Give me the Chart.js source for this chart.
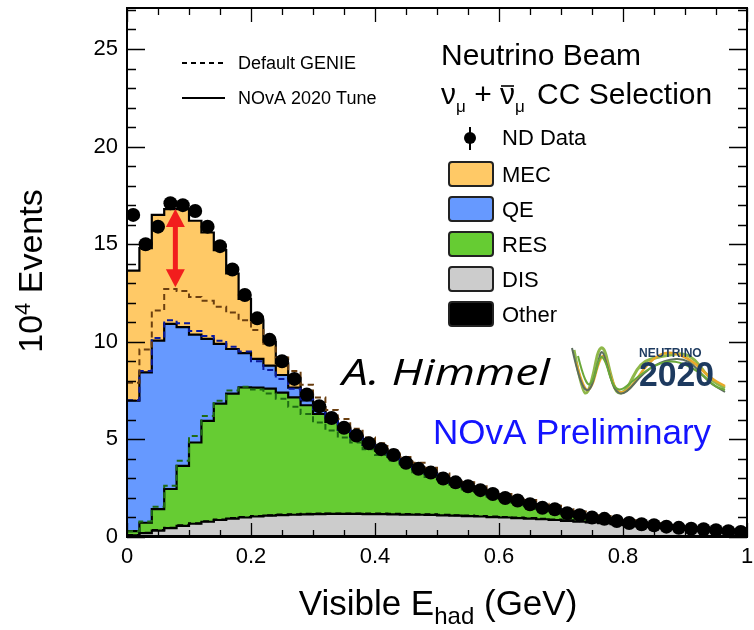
<!DOCTYPE html>
<html>
<head>
<meta charset="utf-8">
<script src="https://cdn.jsdelivr.net/npm/chart.js@4.4.0/dist/chart.umd.min.js"></script>
<style>
  html, body { margin: 0; padding: 0; background: #fff; }
  #wrap { width: 754px; height: 630px; }
</style>
</head>
<body>
<div id="wrap"><canvas id="chart" width="754" height="630"></canvas></div>
<script>
'use strict';

// Visible E_had bin edges (GeV)
var binEdges = [0.00, 0.02, 0.04, 0.06, 0.08, 0.10, 0.12, 0.14, 0.16, 0.18,
  0.20, 0.22, 0.24, 0.26, 0.28, 0.30, 0.32, 0.34, 0.36, 0.38,
  0.40, 0.42, 0.44, 0.46, 0.48, 0.50, 0.52, 0.54, 0.56, 0.58,
  0.60, 0.62, 0.64, 0.66, 0.68, 0.70, 0.72, 0.74, 0.76, 0.78,
  0.80, 0.82, 0.84, 0.86, 0.88, 0.90, 0.92, 0.94, 0.96, 0.98, 1.00];

// ND data, 10^4 events per bin
var ndData = [16.5, 15.0, 15.9, 17.1, 17.0, 16.7, 15.9, 14.9, 13.7, 12.4,
  11.2, 10.1, 9.0, 8.1, 7.3, 6.7, 6.1, 5.6, 5.2, 4.8,
  4.5, 4.2, 3.8, 3.5, 3.3, 3.0, 2.8, 2.6, 2.4, 2.2,
  2.0, 1.87, 1.68, 1.5, 1.42, 1.22, 1.12, 1.0, 0.93, 0.82,
  0.72, 0.65, 0.6, 0.53, 0.47, 0.42, 0.4, 0.35, 0.3, 0.26];

// NOvA 2020 tune, per component (stacked)
var otherTune = [0.05, 0.05, 0.05, 0.05, 0.05, 0.05, 0.05, 0.05, 0.05, 0.05,
  0.05, 0.05, 0.05, 0.05, 0.05, 0.05, 0.05, 0.05, 0.05, 0.05,
  0.05, 0.05, 0.05, 0.05, 0.05, 0.05, 0.05, 0.05, 0.05, 0.05,
  0.05, 0.05, 0.05, 0.05, 0.05, 0.05, 0.05, 0.05, 0.05, 0.05,
  0.05, 0.05, 0.05, 0.05, 0.05, 0.05, 0.05, 0.05, 0.05, 0.05];
var disTune = [0.03, 0.15, 0.28, 0.40, 0.52, 0.63, 0.73, 0.82, 0.89, 0.95,
  1.00, 1.04, 1.07, 1.09, 1.11, 1.12, 1.13, 1.13, 1.13, 1.12,
  1.12, 1.11, 1.10, 1.09, 1.08, 1.06, 1.04, 1.02, 1.00, 0.97,
  0.95, 0.92, 0.89, 0.86, 0.82, 0.78, 0.74, 0.70, 0.66, 0.61,
  0.56, 0.51, 0.47, 0.42, 0.37, 0.33, 0.30, 0.26, 0.22, 0.19];
var resTune = [0.22, 0.53, 1.10, 2.01, 3.07, 4.16, 5.17, 5.96, 6.40, 6.67,
  6.60, 6.51, 6.28, 6.01, 5.59, 5.13, 4.72, 4.32, 3.94, 3.55,
  3.25, 2.96, 2.63, 2.34, 2.10, 1.85, 1.65, 1.47, 1.29, 1.12,
  0.97, 0.85, 0.71, 0.58, 0.51, 0.37, 0.31, 0.23, 0.20, 0.15,
  0.10, 0.08, 0.07, 0.05, 0.04, 0.03, 0.03, 0.02, 0.02, 0.01];
var qeTune = [6.68, 7.70, 8.63, 8.46, 7.11, 5.53, 4.20, 3.06, 2.29, 1.75,
  1.47, 1.18, 0.90, 0.50, 0.25, 0.20, 0.10, 0.05, 0.06, 0.06,
  0.06, 0.06, 0.05, 0.05, 0.05, 0.04, 0.04, 0.04, 0.04, 0.04,
  0.03, 0.03, 0.03, 0.02, 0.02, 0.02, 0.01, 0.01, 0.01, 0.01,
  0.01, 0.01, 0.01, 0.01, 0.01, 0.01, 0.01, 0.01, 0.01, 0.01];
var mecTune = [6.67, 6.37, 6.44, 5.88, 6.05, 5.83, 5.45, 4.81, 3.87, 2.78,
  1.98, 1.22, 0.60, 0.50, 0.30, 0.15, 0.10, 0.05, 0.02, 0.02,
  0.02, 0.02, 0.02, 0.02, 0.02, 0.02, 0.02, 0.02, 0.02, 0.02,
  0.02, 0.01, 0.01, 0.01, 0.01, 0.01, 0.01, 0.01, 0.01, 0.01,
  0.01, 0.01, 0.01, 0.01, 0.01, 0.01, 0.01, 0.01, 0.01, 0.01];

// Default GENIE, cumulative outlines (dashed)
var genieTotal = [7.9, 9.6, 11.6, 12.7, 12.6, 12.3, 12.1, 11.8, 11.5, 11.1,
  10.6, 9.9, 9.2, 8.5, 7.8, 7.15, 6.5, 6.05, 5.55, 5.1,
  4.8, 4.45, 4.1, 3.8, 3.55, 3.25, 3.0, 2.8, 2.6, 2.4,
  2.2, 2.05, 1.9, 1.7, 1.6, 1.42, 1.3, 1.17, 1.07, 0.96,
  0.86, 0.77, 0.7, 0.62, 0.56, 0.5, 0.46, 0.41, 0.36, 0.32];
var genieQE = [7.0, 8.5, 10.2, 11.1, 10.95, 10.55, 10.3, 10.05, 9.75, 9.5,
  9.0, 8.55, 8.1, 7.6, 7.05, 6.45, 5.95, 5.5, 5.1, 4.72,
  4.4, 4.1, 3.78, 3.48, 3.24, 2.98, 2.76, 2.56, 2.36, 2.16,
  1.99, 1.84, 1.67, 1.5, 1.39, 1.21, 1.1, 0.99, 0.92, 0.82,
  0.72, 0.65, 0.6, 0.53, 0.47, 0.42, 0.39, 0.34, 0.3, 0.26];
var genieRES = [0.3, 0.8, 1.55, 2.62, 3.9, 5.18, 6.2, 6.98, 7.5, 7.7,
  7.55, 7.35, 7.08, 6.67, 6.3, 5.87, 5.45, 5.1, 4.84, 4.5,
  4.2, 3.92, 3.6, 3.32, 3.08, 2.84, 2.62, 2.43, 2.25, 2.06,
  1.9, 1.75, 1.59, 1.44, 1.33, 1.16, 1.06, 0.95, 0.88, 0.79,
  0.7, 0.63, 0.58, 0.51, 0.46, 0.41, 0.38, 0.33, 0.29, 0.25];
var genieDIS = [0.1, 0.22, 0.36, 0.48, 0.6, 0.71, 0.81, 0.9, 0.97, 1.03,
  1.08, 1.12, 1.15, 1.17, 1.19, 1.2, 1.21, 1.21, 1.21, 1.2,
  1.2, 1.19, 1.18, 1.17, 1.16, 1.14, 1.12, 1.1, 1.08, 1.05,
  1.03, 1.0, 0.97, 0.94, 0.9, 0.86, 0.82, 0.78, 0.74, 0.69,
  0.64, 0.59, 0.55, 0.5, 0.45, 0.41, 0.38, 0.34, 0.3, 0.27];

var xTickLabels = ['0', '0.2', '0.4', '0.6', '0.8', '1'];
var yTickLabels = ['0', '5', '10', '15', '20', '25'];

// red arrow: tune vs default at the peak
var arrowX = 0.078;
var arrowLow = 12.8;
var arrowHigh = 16.8;

var FONT = '"Liberation Sans", Arial, Helvetica, sans-serif';
var colors = {
  mec: '#ffc966',
  qe: '#6699ff',
  res: '#66cc33',
  dis: '#cccccc',
  other: '#000000'
};

Chart.defaults.font.family = FONT;

// histogram as a stepped line: one point per left edge, last value repeated at the end
function toSteps(values) {
  return binEdges.map(function (x, i) {
    return { x: x, y: values[Math.min(i, values.length - 1)] };
  });
}

function toCenters(values) {
  return values.map(function (v, i) {
    return { x: (binEdges[i] + binEdges[i + 1]) / 2, y: v };
  });
}

function stackLayer(values, color, fill, order) {
  return {
    data: toSteps(values),
    stack: 'tune',
    stepped: 'before',
    fill: fill,
    backgroundColor: color,
    borderColor: '#000',
    borderWidth: 2.2,
    pointRadius: 0,
    order: order
  };
}

function dashedLine(values, color, key, order) {
  return {
    data: toSteps(values),
    stack: key,
    stepped: 'before',
    fill: false,
    borderColor: color,
    borderWidth: 2,
    borderDash: [6, 4],
    pointRadius: 0,
    order: order
  };
}

function drawRich(ctx, parts, x, y) {
  var cx = x;
  parts.forEach(function (p) {
    ctx.font = p.font;
    ctx.fillText(p.t, cx, y + (p.dy || 0));
    var w = ctx.measureText(p.t).width;
    if (p.bar) {
      ctx.save();
      ctx.lineWidth = 1.6;
      ctx.beginPath();
      ctx.moveTo(cx + 1, y - p.bar);
      ctx.lineTo(cx + w - 1, y - p.bar);
      ctx.stroke();
      ctx.restore();
    }
    cx += w + (p.gap || 0);
  });
  return cx - x;
}

function richWidth(ctx, parts) {
  var w = 0;
  parts.forEach(function (p) {
    ctx.font = p.font;
    w += ctx.measureText(p.t).width + (p.gap || 0);
  });
  return w;
}

var decorations = {
  id: 'decorations',
  beforeDraw: function (chart) {
    var ctx = chart.ctx;
    ctx.save();
    ctx.fillStyle = '#fff';
    ctx.fillRect(0, 0, chart.width, chart.height);
    ctx.restore();
  },
  afterDatasetsDraw: function (chart) {
    var ctx = chart.ctx;
    var xs = chart.scales.x;
    var ys = chart.scales.y;
    var ax = xs.getPixelForValue(arrowX);
    var yTop = ys.getPixelForValue(arrowHigh);
    var yBot = ys.getPixelForValue(arrowLow);
    var head = 18, half = 9.5;
    ctx.save();
    ctx.fillStyle = '#f21d1d';
    ctx.strokeStyle = '#f21d1d';
    ctx.lineWidth = 5;
    ctx.beginPath();
    ctx.moveTo(ax, yTop + head - 2);
    ctx.lineTo(ax, yBot - head + 2);
    ctx.stroke();
    ctx.beginPath();
    ctx.moveTo(ax, yTop);
    ctx.lineTo(ax - half, yTop + head);
    ctx.lineTo(ax + half, yTop + head);
    ctx.closePath();
    ctx.fill();
    ctx.beginPath();
    ctx.moveTo(ax, yBot);
    ctx.lineTo(ax - half, yBot - head);
    ctx.lineTo(ax + half, yBot - head);
    ctx.closePath();
    ctx.fill();
    ctx.restore();
  },
  afterDraw: function (chart) {
    var ctx = chart.ctx;
    var a = chart.chartArea;
    var xs = chart.scales.x;
    var ys = chart.scales.y;
    var i, p, len;

    ctx.save();
    // frame and inner ticks
    ctx.strokeStyle = '#000';
    ctx.lineWidth = 2;
    ctx.strokeRect(a.left, a.top, a.right - a.left, a.bottom - a.top);
    ctx.lineWidth = 1.3;
    ctx.beginPath();
    for (i = 0; i <= 27; i++) {
      p = Math.round(ys.getPixelForValue(i)) + 0.5;
      len = i % 5 === 0 ? 18 : 9;
      ctx.moveTo(a.left, p); ctx.lineTo(a.left + len, p);
      ctx.moveTo(a.right, p); ctx.lineTo(a.right - len, p);
    }
    for (i = 0; i <= 20; i++) {
      p = Math.round(xs.getPixelForValue(i * 0.05)) + 0.5;
      len = i % 4 === 0 ? 14 : 7;
      ctx.moveTo(p, a.bottom); ctx.lineTo(p, a.bottom - len);
      ctx.moveTo(p, a.top); ctx.lineTo(p, a.top + len);
    }
    ctx.stroke();

    ctx.fillStyle = '#000';
    ctx.textBaseline = 'alphabetic';
    ctx.textAlign = 'left';

    // axis titles
    var xt = [
      { t: 'Visible E', font: '35px ' + FONT },
      { t: 'had', font: '24px ' + FONT, dy: 9 },
      { t: ' (GeV)', font: '35px ' + FONT }
    ];
    drawRich(ctx, xt, 438 - richWidth(ctx, xt) / 2, 615);

    ctx.save();
    ctx.translate(42, 271);
    ctx.rotate(-Math.PI / 2);
    var yt = [
      { t: '10', font: '34px ' + FONT },
      { t: '4', font: '22px ' + FONT, dy: -12 },
      { t: ' Events', font: '34px ' + FONT }
    ];
    drawRich(ctx, yt, -richWidth(ctx, yt) / 2, 0);
    ctx.restore();

    // Default GENIE / NOvA 2020 Tune legend
    ctx.lineWidth = 2;
    ctx.setLineDash([5, 4]);
    ctx.beginPath();
    ctx.moveTo(182, 63); ctx.lineTo(225, 63);
    ctx.stroke();
    ctx.setLineDash([]);
    ctx.beginPath();
    ctx.moveTo(182, 98); ctx.lineTo(225, 98);
    ctx.stroke();
    ctx.font = '18px ' + FONT;
    ctx.fillText('Default GENIE', 238, 69);
    ctx.fillText('NOvA 2020 Tune', 238, 104);

    // selection label
    ctx.font = '30px ' + FONT;
    ctx.fillText('Neutrino Beam', 441, 65);
    drawRich(ctx, [
      { t: '\u03bd', font: '30px ' + FONT },
      { t: '\u03bc', font: '17px ' + FONT, dy: 8 },
      { t: ' + ', font: '30px ' + FONT },
      { t: '\u03bd', font: '30px ' + FONT, bar: 18 },
      { t: '\u03bc', font: '17px ' + FONT, dy: 8, gap: 4 },
      { t: ' CC Selection', font: '30px ' + FONT }
    ], 441, 104);

    // component legend
    ctx.beginPath();
    ctx.arc(470, 138, 6, 0, Math.PI * 2);
    ctx.fill();
    ctx.lineWidth = 2;
    ctx.beginPath();
    ctx.moveTo(470, 127); ctx.lineTo(470, 150);
    ctx.stroke();
    ctx.font = '22px ' + FONT;
    ctx.fillText('ND Data', 502, 145);

    var boxes = [
      ['MEC', colors.mec], ['QE', colors.qe], ['RES', colors.res],
      ['DIS', colors.dis], ['Other', colors.other]
    ];
    boxes.forEach(function (b, k) {
      var by = 162 + k * 35;
      ctx.fillStyle = b[1];
      ctx.strokeStyle = '#222';
      ctx.lineWidth = 2;
      ctx.beginPath();
      ctx.roundRect(449, by, 44, 24, 3);
      ctx.fill();
      ctx.stroke();
      ctx.fillStyle = '#000';
      ctx.font = '22px ' + FONT;
      ctx.fillText(b[0], 502, by + 20);
    });

    // author
    ctx.save();
    ctx.font = 'italic 36px "Open Sans", Lato, sans-serif';
    var hw = ctx.measureText('A. Himmel').width;
    ctx.translate(342, 385);
    ctx.scale(208 / hw, 1);
    ctx.fillText('A. Himmel', 0, 0);
    ctx.restore();

    // Neutrino 2020 logo
    var waves = [
      ['#8fb84a', 3, [574, 350, 582, 392, 588, 394, 594, 372, 598, 350, 604, 346, 610, 372, 616, 394, 626, 392, 640, 362, 662, 356, 690, 352, 710, 380, 725, 388]],
      ['#e8a92a', 2.5, [576, 362, 584, 392, 592, 388, 598, 364, 604, 352, 610, 376, 618, 394, 630, 390, 648, 362, 668, 350, 692, 360, 710, 378, 725, 386]],
      ['#5c6e5c', 2, [572, 348, 580, 384, 590, 394, 598, 362, 602, 348, 608, 368, 614, 390, 624, 396, 644, 372, 664, 360, 688, 358, 708, 382, 725, 392]],
      ['#6aa83a', 2, [578, 356, 586, 388, 594, 380, 600, 354, 606, 362, 612, 384, 620, 392, 636, 378, 656, 364, 676, 360, 700, 372, 714, 386, 725, 390]]
    ];
    waves.forEach(function (w) {
      var pts = w[2];
      ctx.strokeStyle = w[0];
      ctx.lineWidth = w[1];
      ctx.beginPath();
      ctx.moveTo(pts[0], pts[1]);
      for (var j = 2; j < pts.length - 2; j += 2) {
        var mx = (pts[j] + pts[j + 2]) / 2, my = (pts[j + 1] + pts[j + 3]) / 2;
        ctx.quadraticCurveTo(pts[j], pts[j + 1], mx, my);
      }
      ctx.lineTo(pts[pts.length - 2], pts[pts.length - 1]);
      ctx.stroke();
    });
    ctx.fillStyle = '#1d3a5f';
    ctx.font = 'bold 12px ' + FONT;
    ctx.fillText('NEUTRINO', 639, 357);
    ctx.font = 'bold 35px ' + FONT;
    var lw = ctx.measureText('2020').width;
    ctx.save();
    ctx.translate(639, 386);
    ctx.scale(75 / lw, 1);
    ctx.fillText('2020', 0, 0);
    ctx.restore();

    // preliminary tag
    ctx.fillStyle = '#1414ff';
    ctx.font = '35px ' + FONT;
    ctx.fillText('NOvA Preliminary', 433, 444, 298);
    ctx.restore();
  }
};

var ctx = document.getElementById('chart').getContext('2d');

var chart = new Chart(ctx, {
  type: 'line',
  data: {
    datasets: [
      stackLayer(otherTune, colors.other, 'origin', 14),
      stackLayer(disTune, colors.dis, '-1', 15),
      stackLayer(resTune, colors.res, '-1', 16),
      stackLayer(qeTune, colors.qe, '-1', 17),
      stackLayer(mecTune, colors.mec, '-1', 18),
      dashedLine(genieDIS, '#000000', 'gDIS', 5),
      dashedLine(genieRES, '#1f6b14', 'gRES', 4),
      dashedLine(genieQE, '#0a1aa0', 'gQE', 3),
      dashedLine(genieTotal, '#6b3f10', 'gTot', 2),
      {
        data: toCenters(ndData),
        stack: 'data',
        showLine: false,
        pointRadius: 7,
        pointBackgroundColor: '#000',
        pointBorderWidth: 0,
        borderColor: '#000',
        order: 0
      }
    ]
  },
  options: {
    responsive: false,
    animation: false,
    devicePixelRatio: 1,
    layout: { padding: { left: 0, right: 2, top: 8, bottom: 0 } },
    plugins: {
      legend: { display: false },
      tooltip: { enabled: false }
    },
    scales: {
      x: {
        type: 'linear',
        min: 0,
        max: 1,
        grid: { display: false, drawTicks: false },
        border: { display: false },
        ticks: {
          stepSize: 0.2,
          includeBounds: false,
          autoSkip: false,
          maxRotation: 0,
          padding: 7,
          color: '#000',
          font: { size: 22 },
          callback: function (value) {
            return xTickLabels[Math.round(value / 0.2)];
          }
        },
        afterFit: function (scale) {
          scale.height = 93;
          scale.paddingLeft = 0;
          scale.paddingRight = 0;
        }
      },
      y: {
        type: 'linear',
        stacked: true,
        min: 0,
        max: 27.1,
        grid: { display: false, drawTicks: false },
        border: { display: false },
        ticks: {
          stepSize: 5,
          includeBounds: false,
          padding: 9,
          color: '#000',
          font: { size: 22 },
          callback: function (value) {
            return yTickLabels[Math.round(value / 5)];
          }
        },
        afterFit: function (scale) {
          scale.width = 127;
          scale.paddingTop = 0;
          scale.paddingBottom = 0;
        }
      }
    }
  },
  plugins: [decorations]
});
</script>
</body>
</html>
